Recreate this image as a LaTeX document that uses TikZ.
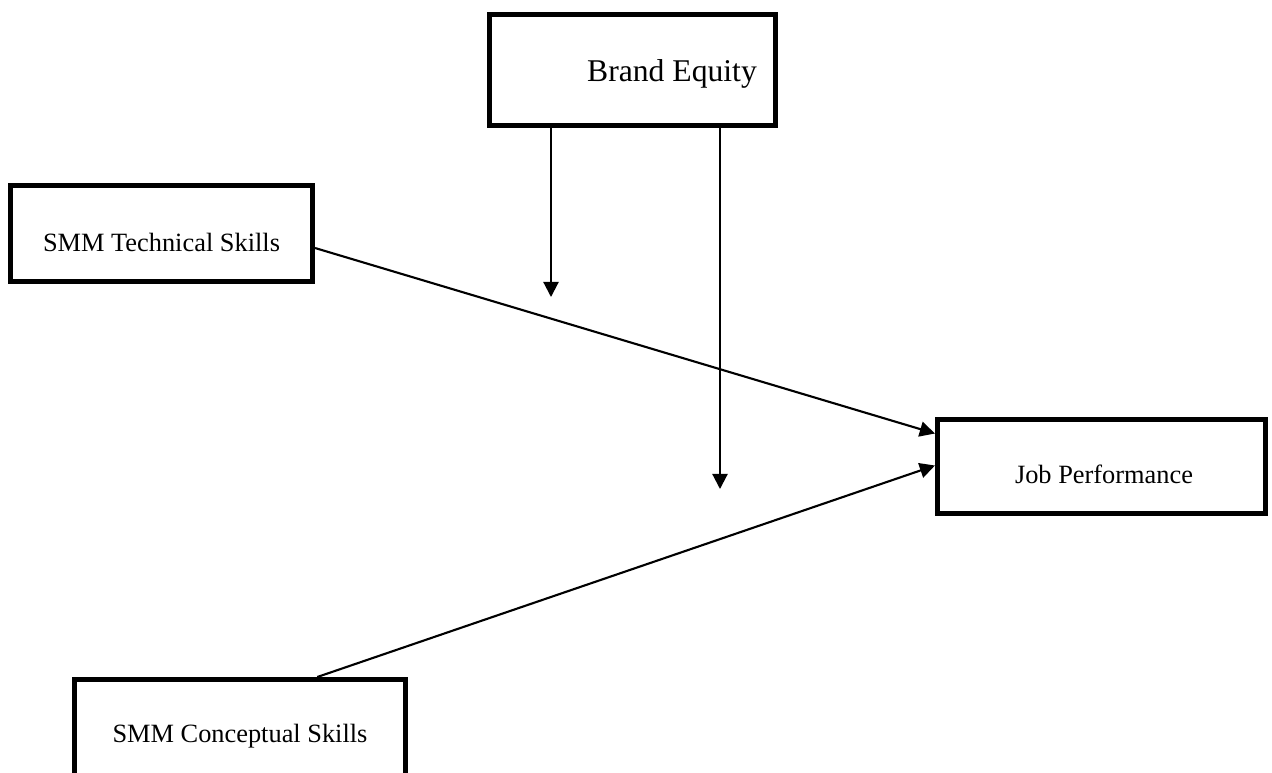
\documentclass[tikz,border=0pt]{standalone}
\usepackage{fontspec}
\setmainfont{Liberation Serif}
\usetikzlibrary{calc,arrows.meta}
\tikzset{
  box/.style={draw, line width=1.4pt, inner sep=0pt, fill=white},
  lbl/.style={anchor=base, inner sep=0pt, font=\fontsize{7.5}{9}\selectfont},
  biglbl/.style={anchor=base, inner sep=0pt, font=\fontsize{9}{11}\selectfont},
  arr/.style={line width=0.6pt, -{Triangle[length=4.3pt,width=4.3pt]}}
}
\begin{document}
\begin{tikzpicture}[x=0.01cm,y=-0.01cm]
\path[use as bounding box, clip] (0,0) rectangle (1272,772);
\fill[white] (0,0) rectangle (1272,772);
% boxes
\node[box, minimum width=2.86cm, minimum height=1.11cm] (brand) at (632.5,70) {};
\node[box, minimum width=3.02cm, minimum height=0.96cm] (tech) at (161.5,233.5) {};
\node[box, minimum width=3.31cm, minimum height=1.80cm] (conc) at (240,769.5) {};
\node[box, minimum width=3.28cm, minimum height=0.94cm] (job) at (1101.5,466.5) {};
% labels
\node[biglbl] (brandtxt) at (672,81) {Brand Equity};
\node[lbl] (techtxt) at (161.5,251) {SMM Technical Skills};
\node[lbl] (conctxt) at (240,742) {SMM Conceptual Skills};
\node[lbl] (jobtxt) at (1104,483) {Job Performance};
% free ends of moderator arrows
\coordinate (m1) at (551,297);
\coordinate (m2) at (720,489);
% connectors
\draw[arr] (m1 |- brand.south) -- (m1);
\draw[arr] (m2 |- brand.south) -- (m2);
\draw[arr] ($(tech.east)+(0,14.5)$) -- ($(job.west)+(0,-33)$);
\draw[arr] ($(conc.north west)!0.73!(conc.north east)$) -- ($(job.west)+(0,-1)$);
\end{tikzpicture}
\end{document}
